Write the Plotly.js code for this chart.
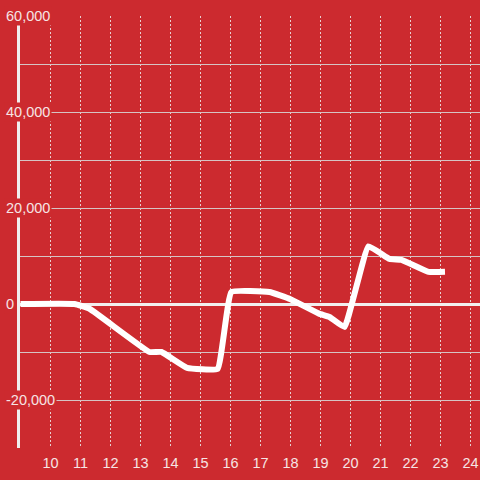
<!DOCTYPE html>
<html>
<head>
<meta charset="utf-8">
<script src="https://cdn.plot.ly/plotly-3.0.1.min.js"></script>
<style>html,body{margin:0;padding:0;background:#cc2a2f;}#chart{width:480px;height:480px;}</style>
</head>
<body>
<div id="chart"></div>
<script>
var hours = [9, 10.8, 11.3, 13.3, 13.7, 14.55, 15.57, 16.03, 17.3, 18.0, 18.95, 19.3, 19.8, 20.6, 21.3, 21.7, 22.6, 23.15];
var values = [0, 0, -1000, -10000, -10000, -13300, -13500, 2500, 2500, 1000, -2000, -2700, -4800, 12000, 9400, 9200, 6700, 6700];
var xTicks = [10, 11, 12, 13, 14, 15, 16, 17, 18, 19, 20, 21, 22, 23, 24];
var yGrid = [-30000, -20000, -10000, 0, 10000, 20000, 30000, 40000, 50000, 60000];
var yLabelVals = [-20000, 0, 20000, 40000, 60000];
var yLabelText = ['-20,000', '0', '20,000', '40,000', '60,000'];

var bg = '#cc2a2f';
var txt = '#f6e4e4';
var annotations = yLabelVals.map(function (v, i) {
  return {
    xref: 'paper', yref: 'y', x: -16 / 460, y: v,
    xanchor: 'left', yanchor: 'middle',
    text: yLabelText[i], showarrow: false,
    bgcolor: bg, borderpad: 1,
    font: {family: 'Liberation Sans, Arial, sans-serif', size: 14.5, color: txt}
  };
});

Plotly.newPlot('chart', [{
  x: hours, y: values, type: 'scatter', mode: 'lines',
  line: {color: '#ffffff', width: 6, shape: 'spline', smoothing: 0.3},
  hoverinfo: 'skip'
}], {
  width: 480, height: 480,
  paper_bgcolor: bg, plot_bgcolor: bg,
  margin: {l: 20, r: 0, t: 16, b: 32, pad: 0},
  showlegend: false,
  xaxis: {
    range: [8.983, 24.317], tickvals: xTicks, ticktext: xTicks.map(String),
    showgrid: true, gridcolor: '#e8d0d0', griddash: '2px,2px', gridwidth: 1,
    zeroline: false, showline: false, ticks: '', ticklabelstandoff: 4,
    tickfont: {family: 'Liberation Sans, Arial, sans-serif', size: 14.5, color: txt}
  },
  yaxis: {
    range: [-30000, 60000], tickvals: yGrid, showticklabels: false,
    showgrid: true, gridcolor: '#d6c4c4', gridwidth: 1,
    zeroline: true, zerolinecolor: '#f2eeee', zerolinewidth: 3,
    showline: true, linecolor: '#f0eeee', linewidth: 3, ticks: ''
  },
  annotations: annotations
}, {staticPlot: true});
</script>
</body>
</html>
